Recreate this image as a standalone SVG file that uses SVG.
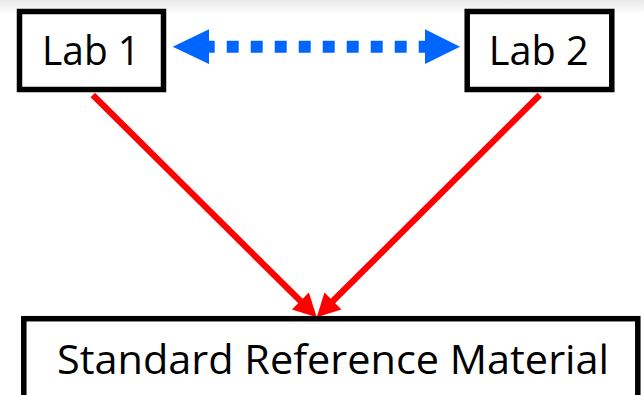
<svg xmlns="http://www.w3.org/2000/svg" width="644" height="395" viewBox="0 0 644 395">
  <defs>
    <linearGradient id="topfade" x1="0" y1="0" x2="0" y2="1">
      <stop offset="0" stop-color="#e9e9e9"/>
      <stop offset="1" stop-color="#ffffff"/>
    </linearGradient>
    <style>
      .box { fill: #ffffff; stroke: #000000; stroke-width: 5.5; }
      .label { font-family: "Open Sans", "Liberation Sans", sans-serif; font-size: 41px; fill: #000000; text-anchor: middle; }
      .red { stroke: #ff0000; stroke-width: 6.3; fill: none; }
      .redhead { fill: #ff0000; }
      .blue { stroke: #0066ff; stroke-width: 12; stroke-dasharray: 12 12; fill: none; }
      .bluehead { fill: #0066ff; }
    </style>
  </defs>
  <rect x="0" y="0" width="644" height="395" fill="#ffffff"/>
  <rect x="0" y="0" width="644" height="14" fill="url(#topfade)"/>

  <g id="connectors">
    <line class="blue" x1="209" y1="46.7" x2="425" y2="46.7" stroke-dashoffset="6.3"/>
    <polygon class="bluehead" points="172.7,46.7 209,29.3 209,64"/>
    <polygon class="bluehead" points="460,46.7 425,29.3 425,64"/>
    <line class="red" x1="92.8" y1="95" x2="301" y2="301.6"/>
    <polygon class="redhead" points="316.7,317.3 291.9,309.5 308.9,292.5"/>
    <line class="red" x1="539.7" y1="95" x2="332.4" y2="301.6"/>
    <polygon class="redhead" points="316.7,317.3 341.5,309.5 324.5,292.5"/>
  </g>

  <g id="lab1">
    <rect class="box" x="19.5" y="11.5" width="144" height="78"/>
    <text class="label" x="91" y="65" textLength="98" lengthAdjust="spacingAndGlyphs">Lab 1</text>
  </g>

  <g id="lab2">
    <rect class="box" x="467.2" y="11.5" width="144.6" height="78"/>
    <text class="label" x="538.7" y="65" textLength="100" lengthAdjust="spacingAndGlyphs">Lab 2</text>
  </g>

  <g id="srm">
    <rect class="box" x="23.8" y="318.7" width="614" height="80" stroke-width="6"/>
    <text class="label" x="333" y="374" textLength="552" lengthAdjust="spacingAndGlyphs">Standard Reference Material</text>
  </g>
</svg>
